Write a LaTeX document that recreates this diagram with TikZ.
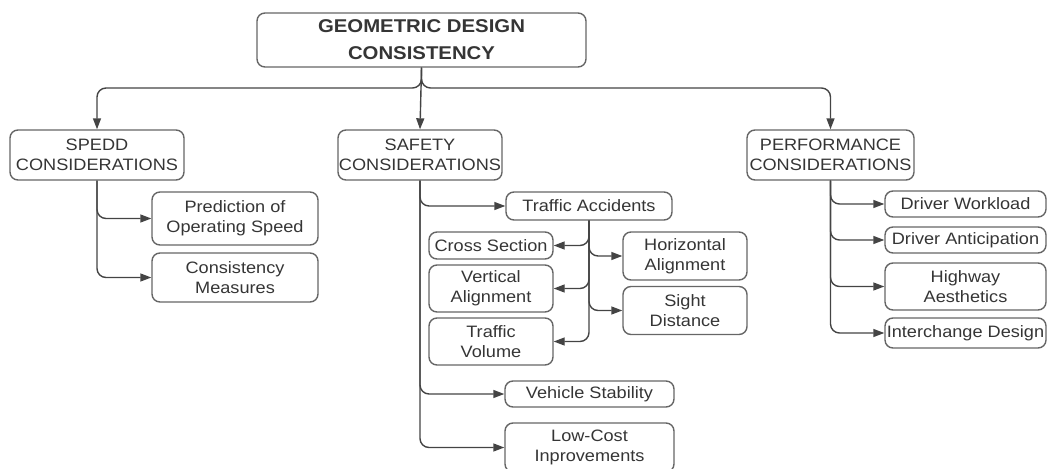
\documentclass[tikz,border=0pt]{standalone}
\usepackage{fontspec}
\setmainfont[FakeStretch=1.1]{Liberation Sans}
\usetikzlibrary{arrows.meta}
\definecolor{txt}{HTML}{353535}
\definecolor{brd}{HTML}{666666}
\definecolor{lin}{HTML}{444444}
\tikzset{
  box/.style={draw=brd, line width=1.4pt, rounded corners=8pt, text=txt, align=center,
    inner sep=1pt, font=\fontsize{16.5}{20}\selectfont},
  rootbox/.style={box, font=\bfseries\fontsize{18.5}{27}\selectfont},
  conn/.style={draw=lin, line width=1.4pt, rounded corners=9pt,
    -{Triangle[length=11pt,width=8pt]}},
}
\begin{document}
\begin{tikzpicture}[x=1pt,y=-1pt]
\useasboundingbox (0,0) rectangle (1048,468);
% nodes
\node[rootbox, minimum width=329, minimum height=54] (root) at (421.5,40) {GEOMETRIC DESIGN\\CONSISTENCY};
\node[box, minimum width=174, minimum height=50] (spedd) at (97,155) {SPEDD\\CONSIDERATIONS};
\node[box, minimum width=164, minimum height=50] (safety) at (420,155) {SAFETY\\CONSIDERATIONS};
\node[box, minimum width=167, minimum height=50] (perf) at (830.5,155) {PERFORMANCE\\CONSIDERATIONS};
\node[box, minimum width=166, minimum height=53] (pred) at (235,218.5) {Prediction of\\Operating Speed};
\node[box, minimum width=166, minimum height=49] (cons) at (235,277.5) {Consistency\\Measures};
\node[box, minimum width=166, minimum height=28] (ta) at (589,206) {Traffic Accidents};
\node[box, minimum width=124, minimum height=27] (cs) at (491,245.5) {Cross Section};
\node[box, minimum width=124, minimum height=47] (va) at (491,288.5) {Vertical\\Alignment};
\node[box, minimum width=124, minimum height=47] (tv) at (491,341.5) {Traffic\\Volume};
\node[box, minimum width=124, minimum height=48] (ha) at (685,256) {Horizontal\\Alignment};
\node[box, minimum width=124, minimum height=48] (sd) at (685,310.5) {Sight\\Distance};
\node[box, minimum width=169, minimum height=26] (vs) at (589.5,394) {Vehicle Stability};
\node[box, minimum width=169, minimum height=49] (lc) at (589.5,447.5) {Low-Cost\\Inprovements};
\node[box, minimum width=161, minimum height=26] (dw) at (965.5,204) {Driver Workload};
\node[box, minimum width=161, minimum height=26] (da) at (965.5,240) {Driver Anticipation};
\node[box, minimum width=161, minimum height=47] (hw) at (965.5,286.5) {Highway\\Aesthetics};
\node[box, minimum width=161, minimum height=30] (id) at (965.5,333) {Interchange Design};
% top connectors
\coordinate (split) at (421.5,88);
\draw[conn] (root.south) -- (split) -| (spedd.north);
\draw[conn] (root.south) -- (split) -| (perf.north);
\draw[conn] (root.south) -- (safety.north);
% speed
\draw[conn] (spedd.south) |- (pred.west);
\draw[conn] (spedd.south) |- (cons.west);
% safety
\draw[conn] (safety.south) |- (ta.west);
\draw[conn] (safety.south) |- (vs.west);
\draw[conn] (safety.south) |- (lc.west);
% traffic accidents
\draw[conn] (ta.south) |- (cs.east);
\draw[conn] (ta.south) |- (va.east);
\draw[conn] (ta.south) |- (tv.east);
\draw[conn] (ta.south) |- (ha.west);
\draw[conn] (ta.south) |- (sd.west);
% performance
\draw[conn] (perf.south) |- (dw.west);
\draw[conn] (perf.south) |- (da.west);
\draw[conn] (perf.south) |- (hw.west);
\draw[conn] (perf.south) |- (id.west);
\end{tikzpicture}
\end{document}
